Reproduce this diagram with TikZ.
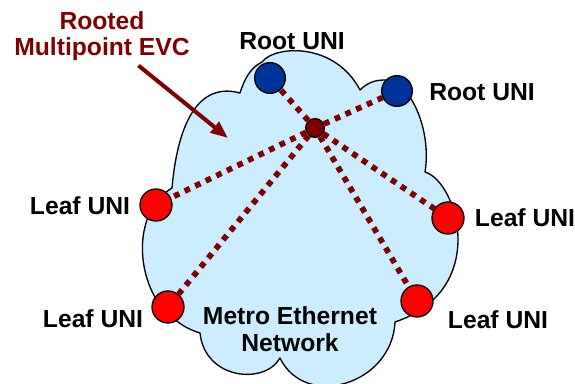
\documentclass[tikz,border=0pt]{standalone}
\usepackage{fontspec}
\setmainfont{Liberation Sans}
\usepackage{tikz}
\usetikzlibrary{arrows.meta}

\definecolor{cloudblue}{RGB}{204,236,255}
\definecolor{rootblue}{RGB}{0,51,153}
\definecolor{evcred}{RGB}{128,0,0}

\tikzset{
  lbl/.style={font=\fontsize{18.5}{20}\selectfont\bfseries, align=center},
  rootuni/.style={circle, draw=black, line width=1pt, fill=rootblue, minimum size=23pt, inner sep=0pt},
  leafuni/.style={circle, draw=black, line width=1pt, fill=red, minimum size=24pt, inner sep=0pt},
  hubpt/.style={circle, draw=black, line width=1pt, fill=evcred, minimum size=14pt, inner sep=0pt},
  spoke/.style={draw=evcred, line width=4.3pt, dash pattern=on 4.3pt off 4.5pt},
}

\begin{document}
\begin{tikzpicture}[x=0.75pt,y=0.75pt,yscale=-1,xscale=1]
\useasboundingbox (0,0) rectangle (575,384);

%Shape: Cloud
\draw [fill=cloudblue, line width=1pt, line join=round]
  (172,188) .. controls (178,120) and (200,82) .. (240,93)
  .. controls (244,80) and (250,68) .. (262,62)
  .. controls (275,45) and (335,42) .. (360,90)
  .. controls (368,82) and (376,80) .. (385,80)
  .. controls (410,80) and (432,130) .. (425,172)
  .. controls (458,182) and (490,290) .. (395,322)
  .. controls (392,385) and (305,410) .. (280,358)
  .. controls (265,385) and (205,380) .. (200,333)
  .. controls (190,330) and (180,325) .. (170,315)
  .. controls (138,290) and (128,215) .. (172,188) -- cycle ;

%Shape: Circles
\node [hubpt] (hub) at (315,128) {};
\node [rootuni] (rootA) at (270,78) {};
\node [rootuni] (rootB) at (397,91) {};
\node [leafuni] (leafA) at (156,205) {};
\node [leafuni] (leafB) at (168,307) {};
\node [leafuni] (leafC) at (448,218) {};
\node [leafuni] (leafD) at (417,301) {};

%Dotted Lines
\foreach \u in {rootA,rootB,leafA,leafB,leafC,leafD}
  \draw [spoke] (hub) -- (\u) ;

% Text Node
\node [lbl] (rootAlbl) at (292,41) {Root UNI};
% Text Node
\node [lbl] (rootBlbl) at (482,92) {Root UNI};
% Text Node
\node [lbl] (leafAlbl) at (80,206) {Leaf UNI};
% Text Node
\node [lbl] (leafBlbl) at (93,319) {Leaf UNI};
% Text Node
\node [lbl] (leafClbl) at (525,218) {Leaf UNI};
% Text Node
\node [lbl] (leafDlbl) at (498,320) {Leaf UNI};
% Text Node
\node [lbl] (metro) at (290,329) {Metro Ethernet\\Network};
% Text Node
\node [lbl, text=evcred] (evc) at (102,36) {Rooted\\Multipoint EVC};

%Straight Lines
\coordinate (evctip) at (228,138);
\draw [evcred, line width=3pt, -{Triangle[length=13pt,width=10pt]}] (evc) -- (evctip) ;

\end{tikzpicture}
\end{document}
